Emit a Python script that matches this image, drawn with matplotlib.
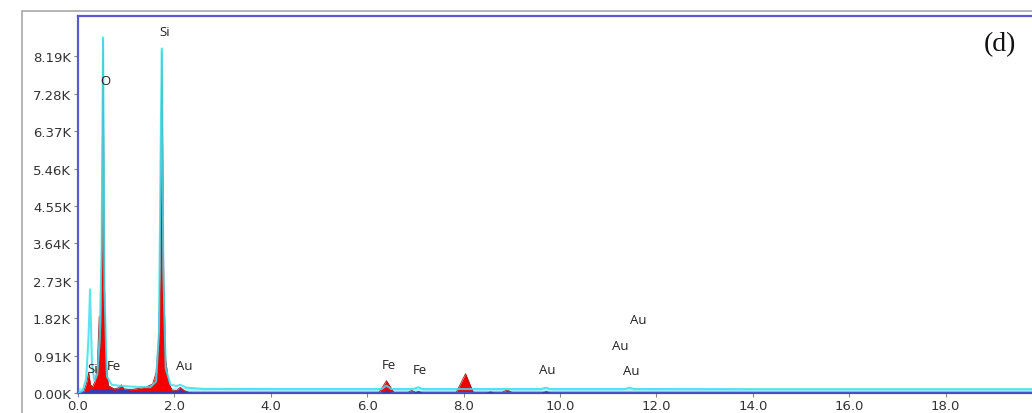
import matplotlib
matplotlib.use("Agg")
import matplotlib.pyplot as plt
from matplotlib.patches import Rectangle
from matplotlib.ticker import FixedLocator, FuncFormatter

# ---- data (energy keV, counts) ----
cyan_x = [0.00, 0.10, 0.17, 0.22, 0.25, 0.29, 0.34, 0.40, 0.45, 0.49, 0.52, 0.55, 0.60, 0.70,
          0.90, 1.20, 1.50, 1.62, 1.68, 1.72, 1.74, 1.77, 1.82, 1.92, 2.05, 2.12, 2.25, 2.60,
          4.00, 6.30, 6.40, 6.50, 6.95, 7.06, 7.15, 8.00, 9.60, 9.71, 9.80, 11.35, 11.44,
          11.55, 14.0, 20.0]
cyan_y = [0, 60, 350, 1400, 2520, 700, 300, 450, 1300, 3500, 8650, 2500, 400, 200,
          170, 150, 140, 280, 1500, 6500, 8380, 3000, 600, 200, 170, 200, 130, 100,
          95, 95, 180, 95, 95, 140, 95, 95, 95, 130, 95, 95, 130,
          95, 90, 90]

red_x = [0.00, 0.12, 0.18, 0.22, 0.26, 0.30, 0.36, 0.40, 0.44, 0.46, 0.48, 0.50, 0.52,
         0.55, 0.58, 0.63, 0.75, 0.85, 0.90, 0.95, 1.10, 1.40, 1.55, 1.62, 1.67, 1.70,
         1.74, 1.78, 1.82, 1.88, 1.95, 2.05, 2.12, 2.20, 2.30, 6.25, 6.40, 6.55, 6.85,
         6.92, 7.00, 7.85, 8.04, 8.20, 8.80, 8.90, 9.00, 20.0]
red_y = [0, 40, 250, 500, 200, 150, 300, 650, 1870, 1000, 2300, 5200, 8600,
         2600, 800, 180, 100, 130, 200, 100, 80, 140, 220, 500, 1300, 3000,
         8300, 2600, 800, 250, 70, 60, 140, 60, 20, 20, 300, 20, 20,
         60, 20, 20, 470, 20, 20, 70, 20, 20]

blue_x = [0.00, 0.15, 0.30, 0.45, 0.60, 0.75, 0.90, 1.10, 1.30, 1.60, 2.00, 2.10, 2.25,
          2.40, 6.30, 6.40, 6.50, 6.95, 7.06, 7.15, 8.45, 8.55, 8.65, 9.60, 9.71, 9.80, 20.0]
blue_y = [0, 40, 100, 80, 100, 70, 100, 60, 50, 50, 40, 90, 35,
          20, 20, 80, 20, 20, 60, 20, 20, 50, 20, 20, 60, 20, 20]

y_ticks = [0, 910, 1820, 2730, 3640, 4550, 5460, 6370, 7280, 8190]
x_ticks = [0, 2, 4, 6, 8, 10, 12, 14, 16, 18]

labels = ["Si", "O", "Si", "Fe", "Au", "Fe", "Fe", "Au", "Au", "Au", "Au"]
label_x = [1.80, 0.57, 0.30, 0.75, 2.20, 6.45, 7.10, 9.73, 11.62, 11.24, 11.47]
label_y = [8790, 7590, 590, 660, 660, 690, 560, 560, 1780, 1150, 540]

# ---- figure ----
fig = plt.figure(figsize=(10.32, 4.14), dpi=100)
fig.patch.set_facecolor("white")

# outer grey frame
fig.patches.append(Rectangle((22 / 1032, -0.1), 1.2, (414 - 12) / 414 + 0.1,
                             transform=fig.transFigure, fill=False,
                             edgecolor="#a8a8a8", linewidth=1.2))

ax = fig.add_axes([78 / 1032, 20 / 414, 964 / 1032, 377 / 414])
ax.set_xlim(0, 20)
ax.set_ylim(0, 9170)

ax.axhline(70, color="#b4f0f6", linewidth=3.5, zorder=1)
ax.fill_between(red_x, red_y, color="#f20000", linewidth=0, zorder=2)
ax.plot(red_x, red_y, color="#a01818", linewidth=0.6, zorder=2.5)
ax.fill_between(blue_x, blue_y, color="#3a3ab0", linewidth=0, zorder=3)
ax.plot(cyan_x, cyan_y, color="#3ee0ee", linewidth=1.5, alpha=0.85, zorder=4)

for s in ["left", "top", "bottom", "right"]:
    ax.spines[s].set_color("#5a5ad8")
    ax.spines[s].set_linewidth(1.6)

ax.yaxis.set_major_locator(FixedLocator(y_ticks))
ax.yaxis.set_major_formatter(FuncFormatter(lambda v, p: f"{v / 1000:.2f}K"))
ax.xaxis.set_major_locator(FixedLocator(x_ticks))
ax.xaxis.set_major_formatter(FuncFormatter(lambda v, p: f"{v:.1f}"))
ax.tick_params(axis="both", labelsize=9.5, labelcolor="#333333", color="#888888",
               length=3, width=0.8, pad=2)
ax.tick_params(axis="x", pad=1)

for t, x, y in zip(labels, label_x, label_y):
    ax.text(x, y, t, ha="center", va="center", fontsize=9.5, color="#222222",
            family="Open Sans", zorder=5)

fig.text(1000 / 1032, 1 - 45 / 414, "(d)", ha="center", va="center",
         fontsize=20, family="Liberation Serif", color="#111111")

fig.savefig("out.png", dpi=100)
